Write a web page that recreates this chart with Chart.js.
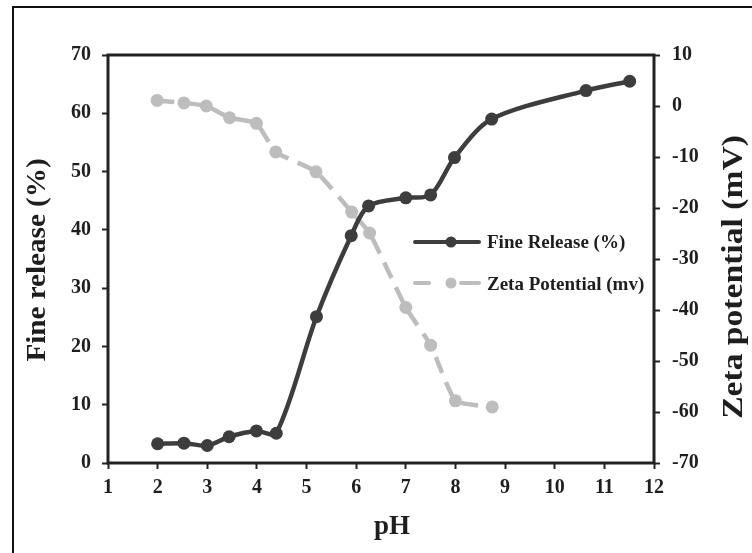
<!DOCTYPE html>
<html><head><meta charset="utf-8">
<script src="https://cdn.jsdelivr.net/npm/chart.js@4.4.1/dist/chart.umd.min.js"></script>
<style>html,body{margin:0;padding:0;background:#fff;}canvas{display:block;}</style>
</head><body>
<canvas id="c" width="752" height="553" style="width:752px;height:553px"></canvas>
<script>
// ---- data ----
const phFine = [2.0, 2.53, 3.0, 3.44, 3.99, 4.39, 5.2, 5.9, 6.25, 7.0, 7.5, 7.98, 8.73, 10.63, 11.51];
const fineRelease = [3.3, 3.4, 3.0, 4.5, 5.5, 5.1, 25.1, 39.0, 44.1, 45.5, 46.0, 52.4, 59.0, 63.9, 65.5];
const phZeta = [1.99, 2.53, 2.98, 3.45, 3.99, 4.38, 5.19, 5.91, 6.27, 7.0, 7.5, 8.0, 8.74];
const zetaPotential = [1.1, 0.6, 0.0, -2.3, -3.4, -9.0, -12.9, -20.8, -24.9, -39.5, -46.9, -57.8, -59.0];
const seriesNames = ['Fine Release (%)', 'Zeta Potential (mv)'];
const xTitle = 'pH';
const yTitle = 'Fine release (%)';
const y2Title = 'Zeta potential (mV)';
const xRange = [1, 12];
const yRange = [0, 70];
const y2Range = [-70, 10];

const FONT = '"Liberation Serif", "Times New Roman", serif';
const DARK = '#3d3d3d';
const LIGHT = '#bdbdbd';
const INK = '#1e1e1e';

const decor = {
  id: 'decor',
  beforeDraw(chart) {
    const c = chart.ctx;
    c.save();
    c.fillStyle = '#fff';
    c.fillRect(0, 0, chart.width, chart.height);
    c.strokeStyle = '#111';
    c.lineWidth = 2;
    c.beginPath();
    c.moveTo(13, chart.height);
    c.lineTo(13, 7);
    c.lineTo(chart.width, 7);
    c.stroke();
    c.restore();
  },
  beforeDatasetsDraw(chart) {
    const a = chart.chartArea, c = chart.ctx;
    c.save();
    c.strokeStyle = '#222';
    c.lineWidth = 3;
    c.strokeRect(a.left, a.top, a.right - a.left, a.bottom - a.top);
    c.restore();
  },
  afterDraw(chart) {
    const c = chart.ctx;
    c.save();
    c.fillStyle = INK;
    // left title
    c.font = 'bold 28px ' + FONT;
    c.textAlign = 'center';
    c.textBaseline = 'alphabetic';
    c.save(); c.translate(45, 260); c.rotate(-Math.PI / 2); c.scale(1.04, 1); c.fillText(yTitle, 0, 0); c.restore();
    // right title
    c.font = 'bold 30px ' + FONT;
    c.save(); c.translate(742, 277); c.rotate(-Math.PI / 2); c.scale(1.12, 1); c.fillText(y2Title, 0, 0); c.restore();
    // x title
    c.font = 'bold 27px ' + FONT;
    c.fillText(xTitle, 392, 534);
    // legend
    const rows = [
      {y: 242, color: DARK, dash: false, text: seriesNames[0], base: 248},
      {y: 283, color: LIGHT, dash: true, text: seriesNames[1], base: 290}
    ];
    rows.forEach(r => {
      c.strokeStyle = r.color; c.fillStyle = r.color; c.lineWidth = 4; c.lineCap = 'round';
      c.beginPath();
      if (r.dash) { c.moveTo(415, r.y); c.lineTo(429, r.y); c.moveTo(461, r.y); c.lineTo(479, r.y); }
      else { c.moveTo(415, r.y); c.lineTo(479, r.y); }
      c.stroke();
      c.beginPath(); c.arc(451, r.y, 5.5, 0, Math.PI * 2); c.fill();
      c.fillStyle = INK; c.font = 'bold 19px ' + FONT; c.textAlign = 'left';
      c.fillText(r.text, 487, r.base);
    });
    c.restore();
  }
};

const tickFont = {family: FONT, size: 20, weight: 'bold'};
new Chart(document.getElementById('c'), {
  type: 'line',
  data: {
    datasets: [
      {
        label: seriesNames[0], yAxisID: 'y',
        data: phFine.map((x, i) => ({x, y: fineRelease[i]})),
        borderColor: DARK, backgroundColor: DARK, borderWidth: 4.5,
        pointRadius: 6.5, pointBorderWidth: 0, tension: 0.3, fill: false
      },
      {
        label: seriesNames[1], yAxisID: 'y2',
        data: phZeta.map((x, i) => ({x, y: zetaPotential[i]})),
        borderColor: LIGHT, backgroundColor: LIGHT, borderWidth: 4.5, borderDash: [17, 10],
        pointRadius: 6.5, pointBorderWidth: 0, tension: 0.15, fill: false
      }
    ]
  },
  options: {
    responsive: false, animation: false, events: [],
    layout: {padding: {top: 55, left: 0, right: 0, bottom: 0}},
    plugins: {legend: {display: false}, tooltip: {enabled: false}},
    scales: {
      x: {
        type: 'linear', min: xRange[0], max: xRange[1],
        afterFit(s) { s.height = 90; },
        ticks: {stepSize: 1, font: tickFont, color: INK, padding: 7},
        grid: {drawOnChartArea: false, drawTicks: true, tickLength: 6, tickWidth: 2, tickColor: '#222'},
        border: {display: false}
      },
      y: {
        position: 'left', min: yRange[0], max: yRange[1],
        afterFit(s) { s.width = 108; },
        ticks: {stepSize: 10, font: tickFont, color: INK, padding: 11},
        grid: {drawOnChartArea: false, drawTicks: true, tickLength: 6, tickWidth: 2, tickColor: '#222'},
        border: {display: false}
      },
      y2: {
        position: 'right', min: y2Range[0], max: y2Range[1],
        afterFit(s) { s.width = 98; },
        ticks: {stepSize: 10, font: tickFont, color: INK, padding: 12},
        grid: {drawOnChartArea: false, drawTicks: true, tickLength: 6, tickWidth: 2, tickColor: '#222'},
        border: {display: false}
      }
    }
  },
  plugins: [decor]
});
</script>
</body></html>
